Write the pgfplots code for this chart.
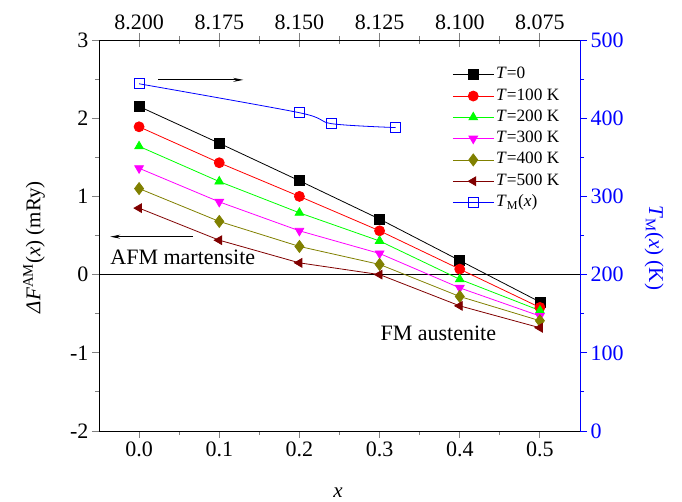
\documentclass[border=0pt]{standalone}
\usepackage{fontspec}
\setmainfont{Liberation Serif}
\usepackage{pgfplots}
\usepackage{pgfplotstable}
\pgfplotsset{compat=1.18}
\usetikzlibrary{arrows.meta}

\definecolor{cgreen}{RGB}{0,255,0}
\definecolor{cmag}{RGB}{255,0,255}
\definecolor{colive}{RGB}{128,128,0}
\definecolor{cmaroon}{RGB}{128,0,0}

\newcommand\tickfont{\fontsize{22}{26}\selectfont}
\newcommand\labfont{\fontsize{21}{25}\selectfont}
\newcommand\legfont{\fontsize{17.3}{20}\selectfont}

% free-energy difference AFM martensite - FM austenite (mRy)
\pgfplotstableread{
x    T0     T100   T200   T300   T400   T500
0.0  2.15   1.89   1.64   1.36   1.10   0.85
0.1  1.68   1.43   1.19   0.93   0.68   0.44
0.2  1.20   1.00   0.79   0.56   0.36   0.15
0.3  0.71   0.56   0.43   0.27   0.13   0.00
0.4  0.18   0.07  -0.06  -0.17  -0.28  -0.40
0.5 -0.35  -0.42  -0.46  -0.53  -0.59  -0.68
}\dF

% martensitic transition temperature (K)
\pgfplotstableread{
x     TM
0.00  444
0.20  407
0.24  393
0.32  388
}\TM

\pgfplotsset{
  base/.style={
    at={(0,0)}, anchor=south west,
    scale only axis, width=481pt, height=391pt,
    xmin=-0.05, xmax=0.55,
    tick label style={font=\tickfont},
    label style={font=\labfont},
    /pgf/number format/assume math mode=true,
    axis line style={line width=0.9pt},
    tick style={line width=0.9pt},
    major tick length=7pt, minor tick length=4pt,
  },
  dfline/.style={line width=0.8pt, mark size=5pt, mark options={solid}},
}

\begin{document}
\begin{tikzpicture}

% left / bottom axis: Delta F
\begin{axis}[base,
  ymin=-2, ymax=3,
  axis x line*=bottom, axis y line*=left,
  tick align=outside,
  xtick={0,0.1,0.2,0.3,0.4,0.5},
  minor xtick={0.05,0.15,0.25,0.35,0.45},
  ytick={-2,-1,0,1,2,3},
  minor ytick={-1.5,-0.5,0.5,1.5,2.5},
  xticklabel style={/pgf/number format/.cd, fixed, fixed zerofill, precision=1},
  xlabel={\textit{x}},
  xlabel style={at={(axis description cs:0.497,-0.171)}, anchor=base},
  ylabel={\textit{ΔF}\textsuperscript{AM}(\textit{x}) (mRy)},
  ylabel style={at={(axis description cs:-0.135,0.47)}, anchor=center},
  legend cell align=left,
  legend image code/.code={%
    \draw[mark repeat=2,mark phase=2,#1] plot coordinates {(0pt,0pt) (20.5pt,0pt) (41pt,0pt)};},
  legend style={at={(0.728,0.944)}, anchor=north west, draw=none, fill=none,
    font=\legfont, row sep=0pt, column sep=0pt,
    nodes={inner sep=2pt, text height=12.7pt, text depth=4.6pt}},
]
\draw[line width=1.4pt] (axis cs:-0.05,0) -- (axis cs:0.55,0);

\addplot[dfline, black, mark=square*] table[x=x,y=T0]{\dF};
\addlegendentry{\legfont\textit{T}=0}
\addplot[dfline, red, mark=*] table[x=x,y=T100]{\dF};
\addlegendentry{\legfont\textit{T}=100 K}
\addplot[dfline, cgreen, mark=triangle*] table[x=x,y=T200]{\dF};
\addlegendentry{\legfont\textit{T}=200 K}
\addplot[dfline, cmag, mark=triangle*, mark options={rotate=180}] table[x=x,y=T300]{\dF};
\addlegendentry{\legfont\textit{T}=300 K}
\addplot[dfline, colive, mark=diamond*, mark size=6pt] table[x=x,y=T400]{\dF};
\addlegendentry{\legfont\textit{T}=400 K}
\addplot[dfline, cmaroon, mark=triangle*, mark options={rotate=90}] table[x=x,y=T500]{\dF};
\addlegendentry{\legfont\textit{T}=500 K}
\addlegendimage{blue, line width=0.8pt, mark=square, mark size=5pt, mark options={solid, fill=white}}
\addlegendentry{\legfont\textit{T}\textsubscript{M}(\textit{x})}

\draw[-{Stealth[length=10pt,width=4pt]}, line width=0.8pt] (axis cs:0.024,2.49) -- (axis cs:0.13,2.49);
\draw[-{Stealth[length=10pt,width=4pt]}, line width=0.8pt] (axis cs:0.0675,0.485) -- (axis cs:-0.036,0.485);
\node[anchor=base west, inner sep=0pt, font=\tickfont] at (axis cs:-0.036,0.123) {AFM martensite};
\node[anchor=base west, inner sep=0pt, font=\tickfont] at (axis cs:0.301,-0.849) {FM austenite};
\end{axis}

% right axis: transition temperature
\begin{axis}[base,
  ymin=0, ymax=500,
  axis y line*=right, axis x line=none,
  tick align=outside,
  ytick={0,100,200,300,400,500},
  minor ytick={50,150,250,350,450},
  y axis line style={blue},
  ytick style={blue},
  yticklabel style={blue},
  ylabel={\textit{T}\textsubscript{M}(\textit{x}) (K)},
  ylabel style={blue, at={(axis description cs:1.154,0.468)}, anchor=center, rotate=180},
]
\addplot[blue, line width=0.8pt, smooth, mark=square, mark size=5pt, mark options={solid, fill=white}] table[x=x,y=TM]{\TM};
\end{axis}

% top axis: lattice parameter
\begin{axis}[base,
  ymin=0, ymax=1,
  axis x line*=top, axis y line=none,
  tick align=center,
  major tick length=14pt, minor tick length=8pt,
  xtick={0,0.1,0.2,0.3,0.4,0.5},
  xticklabels={8.200,8.175,8.150,8.125,8.100,8.075},
  minor xtick={0.05,0.15,0.25,0.35,0.45},
]
\end{axis}

\pgfresetboundingbox
\path[use as bounding box] (-99pt,-71pt) rectangle (583pt,431pt);
\end{tikzpicture}
\end{document}
